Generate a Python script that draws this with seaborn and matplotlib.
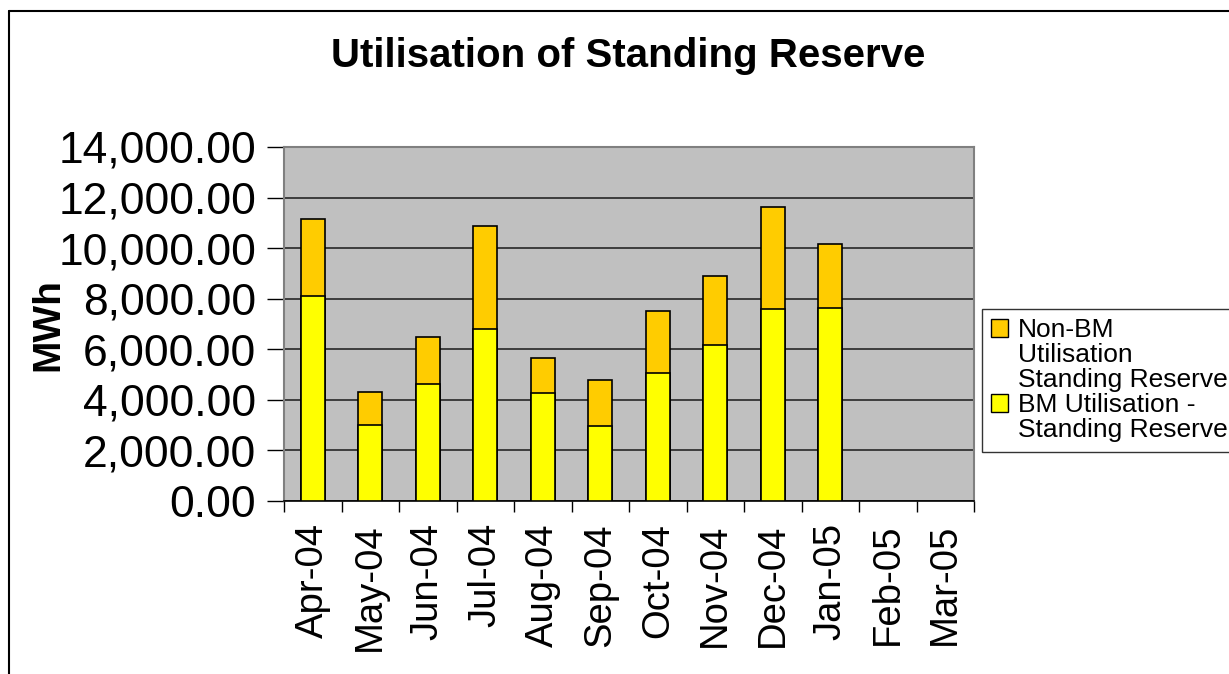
import numpy as np
import pandas as pd
import matplotlib
matplotlib.use("Agg")
import matplotlib.pyplot as plt
import seaborn as sns
from matplotlib.patches import Patch
from matplotlib.lines import Line2D

months = ["Apr-04", "May-04", "Jun-04", "Jul-04", "Aug-04", "Sep-04",
          "Oct-04", "Nov-04", "Dec-04", "Jan-05", "Feb-05", "Mar-05"]
bm_util = [8110, 3020, 4640, 6815, 4260, 2980, 5060, 6180, 7595, 7645, np.nan, np.nan]
non_bm_util = [3060, 1280, 1835, 4060, 1410, 1805, 2440, 2705, 4045, 2505, np.nan, np.nan]
yticks = [0, 2000, 4000, 6000, 8000, 10000, 12000, 14000]

title = "Utilisation of Standing Reserve"
ylabel = "MWh"
label_non_bm = ["Non-BM", "Utilisation", "Standing Reserve"]
label_bm = ["BM Utilisation -", "Standing Reserve"]

sns.set_theme(style="white")
plt.rcParams["font.family"] = ["Liberation Sans", "DejaVu Sans"]
plt.rcParams["text.color"] = "black"
plt.rcParams["xtick.color"] = "black"
plt.rcParams["ytick.color"] = "black"
plt.rcParams["axes.labelcolor"] = "black"

df = pd.DataFrame({"month": months,
                   "bm": bm_util,
                   "total": np.array(bm_util) + np.array(non_bm_util)})

fig = plt.figure(figsize=(12.29, 6.74), dpi=100)
ax = fig.add_axes([284 / 1229, 1 - 501 / 674, (974 - 284) / 1229, (501 - 147) / 674])
ax.set_facecolor("#C0C0C0")

c_non = "#FFCC00"
c_bm = "#FFFF00"
sns.barplot(data=df, x="month", y="total", order=months, color=c_non, width=0.42,
            edgecolor="black", linewidth=1.2, saturation=1, ax=ax, zorder=3)
sns.barplot(data=df, x="month", y="bm", order=months, color=c_bm, width=0.42,
            edgecolor="black", linewidth=1.2, saturation=1, ax=ax, zorder=4)

ax.set_ylim(0, 14000)
ax.set_xlim(-0.5, len(months) - 0.5)
ax.set_yticks(yticks)
ax.set_yticklabels([f"{v:,.2f}" for v in yticks], fontsize=32)
ax.set_xticks(range(len(months)))
ax.set_xticklabels(months, rotation=90, fontsize=27.5, va="top", ha="center")
ax.set_xticks(np.arange(-0.5, len(months), 1.0), minor=True)
ax.tick_params(axis="x", which="major", length=0, pad=16, colors="black")
ax.tick_params(axis="x", which="minor", length=8, width=1, color="black", bottom=True)
ax.tick_params(axis="y", which="major", length=12, width=1, color="black", left=True, pad=8,
               labelcolor="black")
ax.set_xlabel("")
ax.set_ylabel("")
ax.grid(axis="y", color="#333333", linewidth=1.3, zorder=1)
ax.set_axisbelow(True)
for s in ["top", "right", "left"]:
    ax.spines[s].set_color("#808080")
    ax.spines[s].set_linewidth(1.5)
ax.spines["bottom"].set_color("black")
ax.spines["bottom"].set_linewidth(1.2)

fig.text(628 / 1229, 1 - 56 / 674, title, ha="center", va="center",
         fontsize=29, fontweight="bold", color="black")
fig.text(48 / 1229, 1 - 325 / 674, ylabel, ha="center", va="center",
         rotation=90, fontsize=28, fontweight="bold", color="black")

# chart area border
fig.add_artist(Line2D([9 / 1229, 9 / 1229], [0, 1 - 11 / 674], transform=fig.transFigure,
                      color="black", linewidth=1.5))
fig.add_artist(Line2D([9 / 1229, 1], [1 - 11 / 674, 1 - 11 / 674], transform=fig.transFigure,
                      color="black", linewidth=1.5))

blank = Patch(facecolor="none", edgecolor="none")
handles = [Patch(facecolor=c_non, edgecolor="black", linewidth=1), blank, blank,
           Patch(facecolor=c_bm, edgecolor="black", linewidth=1), blank]
labels = label_non_bm + label_bm
leg = fig.legend(handles, labels, loc="upper left",
                 bbox_to_anchor=(982 / 1229, 1 - 309 / 674), bbox_transform=fig.transFigure,
                 fontsize=19, frameon=True, fancybox=False, shadow=False,
                 handlelength=0.65, handleheight=0.65, handletextpad=0.35,
                 labelspacing=0.04, borderpad=0.35, borderaxespad=0)
leg.get_frame().set_edgecolor("black")
leg.get_frame().set_linewidth(1)
leg.get_frame().set_facecolor("white")
for t in leg.get_texts():
    t.set_color("black")

fig.savefig("out.png", dpi=100)
